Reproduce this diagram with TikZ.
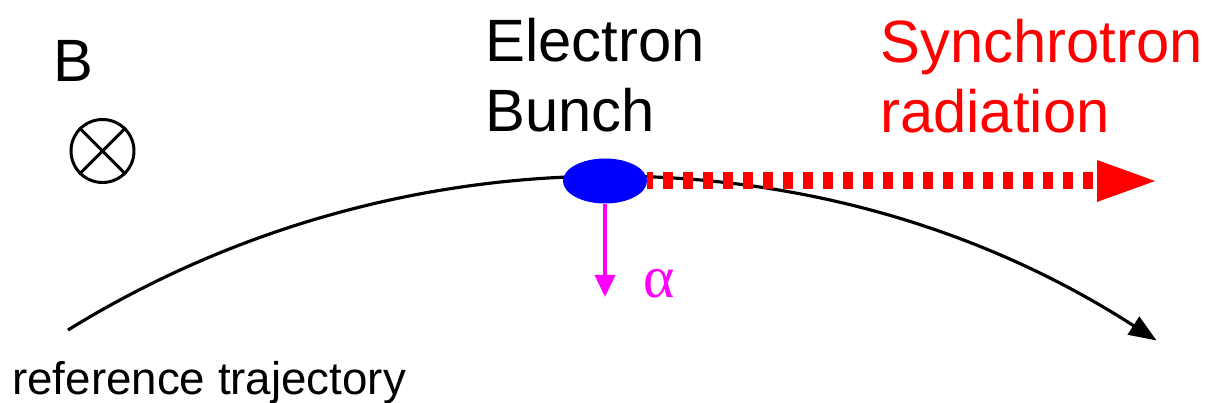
\documentclass[tikz,border=0pt]{standalone}
\usepackage{fontspec}
\setmainfont{Liberation Sans}
\newfontfamily\serifalfa{Liberation Serif}
\usetikzlibrary{arrows.meta,shapes.geometric}

\begin{document}
\begin{tikzpicture}[line join=round,
    etichetta/.style={inner sep=0pt,align=left,anchor=base west,
                      font=\fontsize{34pt}{40pt}\selectfont}]
  \definecolor{sincroRosso}{HTML}{FF0000}
  \definecolor{sincroBlu}{HTML}{0000FF}
  \definecolor{sincroMagenta}{HTML}{FF00FF}
  \useasboundingbox (0,0) rectangle (24.14,8.06);

  % Campo magnetico entrante nel foglio.
  \node[etichetta] (campoB) at (1.06,6.42) {B};
  \node[circle,draw,line width=1.7pt,minimum size=1.26cm,inner sep=0pt]
    (entrante) at (2.05,5.04) {};
  \draw[line width=1.7pt]
    (entrante.north west) -- (entrante.south east)
    (entrante.north east) -- (entrante.south west);

  % Traiettoria di riferimento: arco di cerchio con freccia finale.
  \coordinate (inizioTraiettoria) at (1.36,1.46);
  \draw[line width=1.8pt,-{Triangle[length=.55cm,width=.42cm]}]
    (inizioTraiettoria) arc[start angle=121.7,end angle=57.2,radius=20.4];
  \node[etichetta,font=\fontsize{26pt}{30pt}\selectfont]
    (traiettoriaTesto) at (.24,.16) {reference trajectory};

  % Pacchetto di elettroni e radiazione emessa in avanti.
  \node[ellipse,fill=sincroBlu,minimum width=1.68cm,minimum height=.9cm,inner sep=0pt]
    (pacchetto) at (12.1,4.44) {};
  \coordinate (puntaRadiazione) at (23.1,4.44);
  \draw[sincroRosso,line width=.34cm,dash pattern=on .2cm off .2cm,dash phase=.08cm,
        -{Triangle[length=1.16cm,width=.84cm,line width=0pt]}]
    (pacchetto.east) -- (puntaRadiazione);
  \node[etichetta] (pacchettoTesto) at (9.7,5.42) {Electron\\Bunch};
  \node[etichetta,text=sincroRosso] (radiazioneTesto) at (17.6,5.4) {Synchrotron\\radiation};

  % Spostamento verso l'interno.
  \coordinate (puntaAlfa) at (12.1,2.12);
  \draw[sincroMagenta,line width=2.2pt,-{Triangle[length=.44cm,width=.4cm]}]
    (pacchetto.south) -- (puntaAlfa);
  \node[etichetta,text=sincroMagenta,font=\serifalfa\fontsize{34pt}{40pt}\selectfont]
    (alfa) at (12.87,2.1) {α};
\end{tikzpicture}
\end{document}
